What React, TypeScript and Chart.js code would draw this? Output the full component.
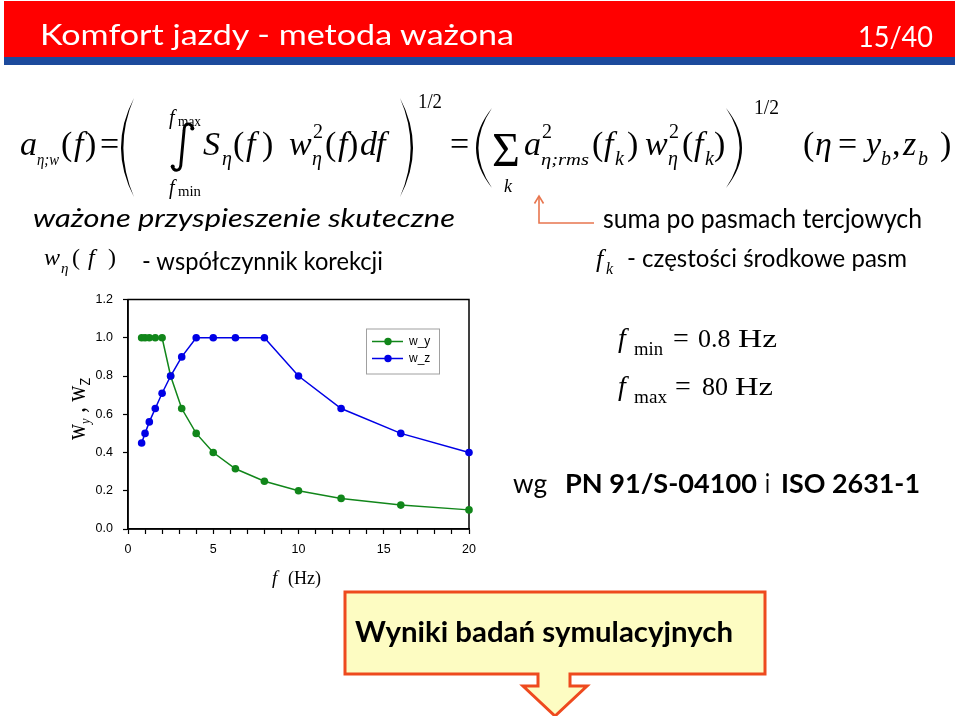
import React, { useEffect, useRef } from 'react';
import { Chart, registerables } from 'chart.js';

Chart.register(...registerables);

// ---- data ----
const frequencies = [0.8, 1, 1.25, 1.6, 2, 2.5, 3.15, 4, 5, 6.3, 8, 10, 12.5, 16, 20];
const wyValues = [1, 1, 1, 1, 1, 0.8, 0.63, 0.5, 0.4, 0.315, 0.25, 0.2, 0.16, 0.125, 0.1];
const wzValues = [0.45, 0.5, 0.56, 0.63, 0.71, 0.8, 0.9, 1, 1, 1, 1, 0.8, 0.63, 0.5, 0.4];
const seriesLabels = ['w_y', 'w_z'];
const seriesColors = ['#11861a', '#0000e6'];
const xMin = 0;
const xMax = 20;
const yMin = 0;
const yMax = 1.2;

const SERIF = "'Liberation Serif', 'Times New Roman', serif";
const SANS = "Lato, 'Open Sans', sans-serif";
const ARIAL = "'Liberation Sans', Arial, sans-serif";

const framePlugin = {
  id: 'frame',
  beforeDatasetsDraw(chart: any) {
    const { ctx, chartArea } = chart;
    ctx.save();
    ctx.strokeStyle = '#000';
    ctx.lineWidth = 1.5;
    ctx.strokeRect(chartArea.left, chartArea.top, chartArea.right - chartArea.left, chartArea.bottom - chartArea.top);
    ctx.restore();
  },
};

const boxLegendPlugin = {
  id: 'boxLegend',
  afterDatasetsDraw(chart: any) {
    const { ctx, chartArea } = chart;
    const x0 = chartArea.left + 238;
    const y0 = chartArea.top + 29;
    const w = 73;
    const h = 45;
    ctx.save();
    ctx.fillStyle = '#fff';
    ctx.fillRect(x0, y0, w, h);
    ctx.strokeStyle = '#a0a0a0';
    ctx.lineWidth = 1;
    ctx.strokeRect(x0 + 0.5, y0 + 0.5, w, h);
    chart.data.datasets.forEach((ds: any, i: number) => {
      const y = y0 + 13 + i * 17;
      ctx.strokeStyle = ds.borderColor;
      ctx.lineWidth = 1.5;
      ctx.beginPath();
      ctx.moveTo(x0 + 6, y);
      ctx.lineTo(x0 + 37, y);
      ctx.stroke();
      ctx.fillStyle = ds.backgroundColor;
      ctx.beginPath();
      ctx.arc(x0 + 22, y, 3.7, 0, Math.PI * 2);
      ctx.fill();
      ctx.fillStyle = '#000';
      ctx.font = `12px ${ARIAL}`;
      ctx.textBaseline = 'middle';
      ctx.textAlign = 'left';
      ctx.fillText(ds.label, x0 + 43, y);
    });
    ctx.restore();
  },
};

function WeightChart() {
  const ref = useRef<HTMLCanvasElement | null>(null);
  useEffect(() => {
    if (!ref.current) return;
    const mk = (vals: number[]) => frequencies.map((f, i) => ({ x: f, y: vals[i] }));
    const chart = new Chart(ref.current, {
      type: 'line',
      data: {
        datasets: [
          {
            label: seriesLabels[0],
            data: mk(wyValues),
            borderColor: seriesColors[0],
            backgroundColor: seriesColors[0],
            borderWidth: 1.5,
            pointRadius: 3.8,
            pointBorderWidth: 0,
            pointBackgroundColor: seriesColors[0],
            tension: 0,
            clip: false as any,
            order: 1,
          },
          {
            label: seriesLabels[1],
            data: mk(wzValues),
            borderColor: seriesColors[1],
            backgroundColor: seriesColors[1],
            borderWidth: 1.5,
            pointRadius: 3.8,
            pointBorderWidth: 0,
            pointBackgroundColor: seriesColors[1],
            tension: 0,
            clip: false as any,
            order: 0,
          },
        ],
      },
      options: {
        animation: false,
        responsive: false,
        maintainAspectRatio: false,
        layout: { padding: { left: 0, right: 21, top: 10, bottom: 0 } },
        plugins: { legend: { display: false }, tooltip: { enabled: false } },
        scales: {
          x: {
            type: 'linear',
            min: xMin,
            max: xMax,
            afterFit: (s: any) => { s.height = 63; },
            ticks: {
              stepSize: 1,
              autoSkip: false,
              maxRotation: 0,
              padding: 8,
              color: '#000',
              font: { family: ARIAL, size: 12.5 },
              callback: (v: any) => (Number(v) % 5 === 0 ? String(v) : ''),
            },
            grid: { drawOnChartArea: false, drawTicks: true, tickLength: 5, tickColor: '#000', tickWidth: 1.2 },
            border: { display: true, color: '#000', width: 1.5 },
          },
          y: {
            type: 'linear',
            min: yMin,
            max: yMax,
            afterFit: (s: any) => { s.width = 68; },
            ticks: {
              stepSize: 0.2,
              padding: 10,
              color: '#000',
              font: { family: ARIAL, size: 12.5 },
              callback: (v: any) => Number(v).toFixed(1),
            },
            grid: { drawOnChartArea: false, drawTicks: true, tickLength: 5, tickColor: '#000', tickWidth: 1.2 },
            border: { display: true, color: '#000', width: 1.5 },
          },
        },
      } as any,
      plugins: [framePlugin, boxLegendPlugin],
    });
    return () => chart.destroy();
  }, []);
  return (
    <canvas
      ref={ref}
      width={430}
      height={310}
      style={{ position: 'absolute', left: 60, top: 282, width: 430, height: 310 }}
    />
  );
}

type TProps = { x: number; y: number; s: number; i?: boolean; tl?: number; f?: string; w?: number | string; fill?: string; children: React.ReactNode };
function T({ x, y, s, i, tl, f, w, fill, children }: TProps) {
  return (
    <text
      x={x}
      y={y}
      fontSize={s}
      fontFamily={f || SERIF}
      fontStyle={i ? 'italic' : 'normal'}
      fontWeight={w || 'normal'}
      fill={fill || '#000'}
      textLength={tl}
      lengthAdjust={tl ? 'spacingAndGlyphs' : undefined}
    >
      {children}
    </text>
  );
}

function lParen(x0: number, x1: number, top: number, bot: number, t = 2.4) {
  const mid = (top + bot) / 2;
  return `M ${x1} ${top} Q ${2 * x0 - x1} ${mid} ${x1} ${bot} Q ${2 * (x0 + t) - x1} ${mid} ${x1} ${top} Z`;
}
function rParen(x0: number, x1: number, top: number, bot: number, t = 2.4) {
  const mid = (top + bot) / 2;
  return `M ${x1} ${top} Q ${2 * x0 - x1} ${mid} ${x1} ${bot} Q ${2 * (x0 - t) - x1} ${mid} ${x1} ${top} Z`;
}

const B = 155; // formula baseline
const SUB = B + 10;
const SUP = B - 17;

function Slide() {
  return (
    <svg width={960} height={716} style={{ position: 'absolute', left: 0, top: 0 }}>
      {/* title bar */}
      <rect x={4} y={1} width={951} height={56} fill="#ff0000" />
      <rect x={4} y={57} width={951} height={8} fill="#1c4a9c" />
      <T x={40} y={45} s={29.5} f={SANS} fill="#fff" tl={474}>Komfort jazdy - metoda ważona</T>
      <T x={858} y={47} s={29.5} f={SANS} fill="#fff" tl={75}>15/40</T>

      {/* formula, left part */}
      <T x={20} y={B} s={34} i>a</T>
      <T x={37} y={SUB} s={17} i tl={22}>η;w</T>
      <T x={61} y={B} s={34}>(</T>
      <T x={74} y={B} s={34} i>f</T>
      <T x={85} y={B} s={34}>)</T>
      <T x={100} y={B} s={34}>=</T>
      <path d={lParen(121, 134, 98, 197)} fill="#000" />
      <T x={169} y={124} s={20} i>f</T>
      <T x={178} y={126} s={15} tl={23}>max</T>
      <path d="M 193 129 C 191 122, 184 122, 184 131 L 181 163 C 181 172, 174 172, 172 166" stroke="#000" strokeWidth={2.9} fill="none" />
      <circle cx={192.3} cy={128.5} r={2} fill="#000" />
      <circle cx={172.7} cy={166.5} r={2} fill="#000" />
      <T x={169} y={194} s={20} i>f</T>
      <T x={178} y={196} s={15} tl={23}>min</T>
      <T x={203} y={B} s={34} i>S</T>
      <T x={222} y={SUB} s={20} i>η</T>
      <T x={233} y={B} s={34}>(</T>
      <T x={246} y={B} s={34} i>f</T>
      <T x={262} y={B} s={34}>)</T>
      <T x={289} y={B} s={34} i>w</T>
      <T x={313} y={SUP} s={20}>2</T>
      <T x={312} y={SUB} s={20} i>η</T>
      <T x={325} y={B} s={34}>(</T>
      <T x={338} y={B} s={34} i>f</T>
      <T x={347} y={B} s={34}>)</T>
      <T x={360} y={B} s={34} i>d</T>
      <T x={376} y={B} s={34} i>f</T>
      <path d={rParen(413, 400, 98, 197)} fill="#000" />
      <T x={418} y={108} s={21} tl={24}>1/2</T>
      <T x={450} y={B} s={34}>=</T>

      {/* formula, right part */}
      <path d={lParen(476, 492, 108, 188)} fill="#000" />
      <T x={492} y={B + 11} s={48}>Σ</T>
      <T x={504} y={192} s={18} i>k</T>
      <T x={524} y={B} s={34} i>a</T>
      <T x={542} y={SUP} s={20}>2</T>
      <T x={541} y={SUB} s={17} i tl={48}>η;rms</T>
      <T x={592} y={B} s={34}>(</T>
      <T x={604} y={B} s={34} i>f</T>
      <T x={615} y={SUB} s={20} i>k</T>
      <T x={627} y={B} s={34}>)</T>
      <T x={645} y={B} s={34} i>w</T>
      <T x={669} y={SUP} s={20}>2</T>
      <T x={668} y={SUB} s={20} i>η</T>
      <T x={682} y={B} s={34}>(</T>
      <T x={694} y={B} s={34} i>f</T>
      <T x={705} y={SUB} s={20} i>k</T>
      <T x={714} y={B} s={34}>)</T>
      <path d={rParen(742, 726, 108, 188)} fill="#000" />
      <T x={754} y={114} s={21} tl={25}>1/2</T>
      <T x={803} y={B} s={34}>(</T>
      <T x={815} y={B} s={34} i>η</T>
      <T x={838} y={B} s={34}>=</T>
      <T x={866} y={B} s={34} i>y</T>
      <T x={881} y={SUB} s={20} i>b</T>
      <T x={892} y={B} s={34}>,</T>
      <T x={903} y={B} s={34} i>z</T>
      <T x={918} y={SUB} s={20} i>b</T>
      <T x={940} y={B} s={34}>)</T>

      {/* orange pointer */}
      <path d="M 594 223 H 539 V 197" stroke="#e8764f" strokeWidth={1.6} fill="none" />
      <path d="M 534.5 203.5 L 539 196 L 543.5 203.5" stroke="#e8764f" strokeWidth={1.6} fill="none" />

      {/* descriptive lines */}
      <T x={33} y={227} s={26} i f={SANS} tl={422}>ważone przyspieszenie skuteczne</T>
      <T x={603} y={228} s={26} f={SANS} tl={319}>suma po pasmach tercjowych</T>
      <T x={44} y={265} s={24} i>w</T>
      <T x={61} y={273} s={15} i>η</T>
      <T x={72} y={265} s={24}>(</T>
      <T x={88} y={265} s={24} i>f</T>
      <T x={108} y={265} s={24}>)</T>
      <T x={142} y={270} s={25} f={SANS} tl={241}>- współczynnik korekcji</T>
      <T x={596} y={267} s={26} i>f</T>
      <T x={606} y={274} s={16} i>k</T>
      <T x={627} y={267} s={25} f={SANS} tl={280}>- częstości środkowe pasm</T>

      {/* f_min, f_max */}
      <T x={618} y={347} s={28} i>f</T>
      <T x={634} y={355} s={18} tl={29}>min</T>
      <T x={673} y={347} s={28}>=</T>
      <T x={698} y={347} s={26}>0.8</T>
      <T x={738} y={347} s={26} tl={39}>Hz</T>
      <T x={618} y={395} s={28} i>f</T>
      <T x={634} y={403} s={18} tl={33}>max</T>
      <T x={675} y={395} s={28}>=</T>
      <T x={702} y={395} s={26}>80</T>
      <T x={735} y={395} s={26} tl={38}>Hz</T>

      {/* standards */}
      <T x={513} y={493} s={26} f={SANS} tl={34}>wg</T>
      <T x={565} y={493} s={26} f={SANS} w="bold" tl={192}>PN 91/S-04100</T>
      <T x={765} y={493} s={26} f={SANS} tl={5}>i</T>
      <T x={781} y={493} s={26} f={SANS} w="bold" tl={139}>ISO 2631-1</T>

      {/* chart axis titles */}
      <T x={272} y={584} s={19} i>f</T>
      <T x={288} y={584} s={18}>(Hz)</T>
      <g transform="rotate(-90 85 409)">
        <text x={85} y={409} textAnchor="middle" fontFamily={SERIF} fontSize={27} textLength={62} lengthAdjust="spacingAndGlyphs">
          w<tspan fontSize={15} dy={5} fontStyle="italic">y</tspan>
          <tspan dy={-5}> , w</tspan>
          <tspan fontSize={15} dy={5} fontFamily={ARIAL}>Z</tspan>
        </text>
      </g>

      {/* callout */}
      <path
        d="M 345 592 H 765 V 674 H 570 V 686 H 587 L 555 716 L 523 686 H 538 V 674 H 345 Z"
        fill="#fdfcc2"
        stroke="#ee4a1e"
        strokeWidth={3}
      />
      <T x={355} y={642} s={28} f={SANS} w="bold" tl={378}>Wyniki badań symulacyjnych</T>
    </svg>
  );
}

export default function App() {
  return (
    <div style={{ position: 'absolute', left: 0, top: 0, width: 960, height: 716, background: '#fff', overflow: 'hidden' }}>
      <WeightChart />
      <Slide />
    </div>
  );
}
